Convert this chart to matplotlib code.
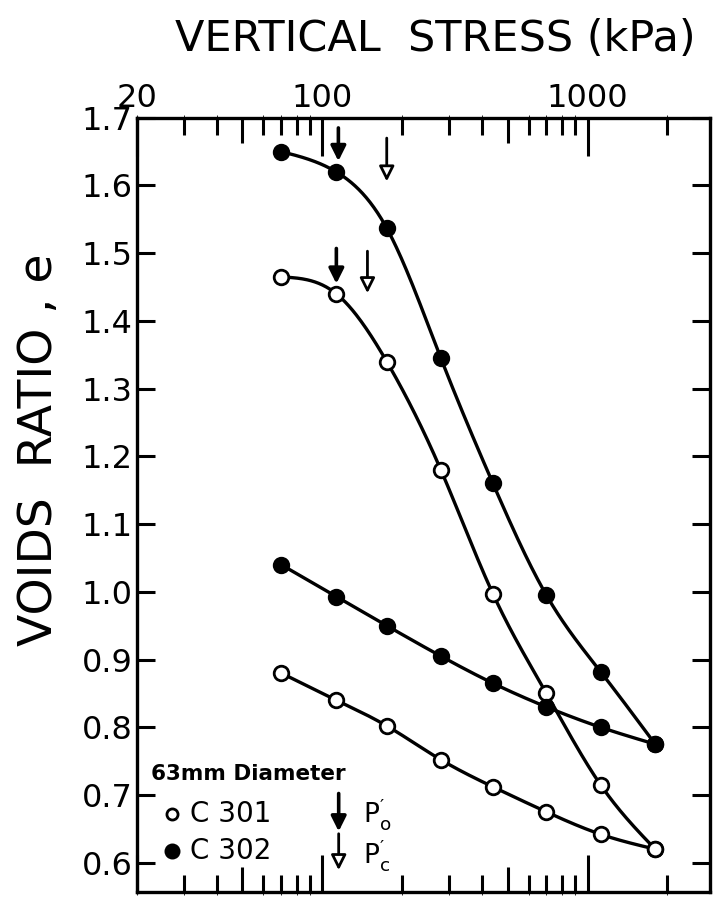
import numpy as np
import matplotlib
matplotlib.use("Agg")
import matplotlib.pyplot as plt
from matplotlib.ticker import FixedLocator, NullFormatter

plt.rcParams['font.family'] = ['DejaVu Sans']
plt.rcParams['mathtext.fontset'] = 'dejavusans'

# vertical stress (kPa) of each load step
stress = [70, 113, 175, 280, 440, 700, 1120, 1800]

# voids ratio
c302_upper = [1.650, 1.620, 1.537, 1.345, 1.160, 0.995, 0.882, 0.775]
c301_upper = [1.465, 1.440, 1.340, 1.180, 0.997, 0.850, 0.715, 0.620]
c302_lower = [1.040, 0.993, 0.950, 0.905, 0.865, 0.830, 0.800, 0.775]
c301_lower = [0.880, 0.840, 0.802, 0.752, 0.712, 0.675, 0.642, 0.620]

# arrows: (stress, e at tail, e at tip)
po_arrows = [(115, 1.685, 1.636), (113, 1.507, 1.455)]
pc_arrows = [(175, 1.670, 1.606), (148, 1.503, 1.441)]

y_ticks = [0.6, 0.7, 0.8, 0.9, 1.0, 1.1, 1.2, 1.3, 1.4, 1.5, 1.6, 1.7]
x_labels = [20, 100, 1000]
x_medium = [50, 500]
x_minor = [30, 40, 60, 70, 80, 90, 200, 300, 400, 600, 700, 800, 900, 2000]


def smooth(xs, ys, n=300):
    # natural cubic spline through the points, in log-x
    x = np.log10(xs)
    y = np.asarray(ys, float)
    k = len(x)
    h = np.diff(x)
    A = np.zeros((k, k))
    r = np.zeros(k)
    A[0, 0] = A[-1, -1] = 1
    for i in range(1, k - 1):
        A[i, i - 1] = h[i - 1]
        A[i, i] = 2 * (h[i - 1] + h[i])
        A[i, i + 1] = h[i]
        r[i] = 3 * ((y[i + 1] - y[i]) / h[i] - (y[i] - y[i - 1]) / h[i - 1])
    c = np.linalg.solve(A, r)
    b = (y[1:] - y[:-1]) / h - h * (2 * c[:-1] + c[1:]) / 3
    d = (c[1:] - c[:-1]) / (3 * h)
    xx = np.linspace(x[0], x[-1], n)
    idx = np.clip(np.searchsorted(x, xx) - 1, 0, k - 2)
    t = xx - x[idx]
    yy = y[idx] + b[idx] * t + c[idx] * t**2 + d[idx] * t**3
    return 10 ** xx, yy


fig = plt.figure(figsize=(7.13, 8.99), dpi=100)
ax = fig.add_axes([0.192, 0.008, 0.804, 0.861])

lw = 2.4
for ys, filled in [(c302_upper, True), (c301_upper, False),
                   (c302_lower, True), (c301_lower, False)]:
    sx, sy = smooth(stress, ys)
    ax.plot(sx, sy, color='black', lw=lw, zorder=2)
    ax.plot(stress, ys, 'o', ms=10.5, mew=2.0, mec='black',
            mfc='black' if filled else 'white', zorder=3)

head = '-|>,head_length=0.9,head_width=0.45'
for x, y0, y1 in po_arrows:
    ax.annotate('', xy=(x, y1), xytext=(x, y0),
                arrowprops=dict(arrowstyle=head, lw=2.6, color='black',
                                fc='black', shrinkA=0, shrinkB=0))
for x, y0, y1 in pc_arrows:
    ax.annotate('', xy=(x, y1), xytext=(x, y0),
                arrowprops=dict(arrowstyle=head, lw=2.0, ec='black',
                                fc='white', shrinkA=0, shrinkB=0))

ax.set_xscale('log')
ax.set_xlim(20, 2900)
ax.set_ylim(0.557, 1.7)

ax.xaxis.set_major_locator(FixedLocator(x_labels))
ax.xaxis.set_minor_locator(FixedLocator(x_minor))
ax.xaxis.set_major_formatter(plt.FuncFormatter(lambda v, p: '%d' % v))
ax.xaxis.set_minor_formatter(NullFormatter())
ax.tick_params(axis='x', which='major', direction='in', top=True, bottom=True,
               labeltop=True, labelbottom=False, length=27, width=2.2,
               labelsize=23, pad=3)
ax.tick_params(axis='x', which='minor', direction='in', top=True, bottom=True,
               length=12, width=2.2)

# medium ticks at 50 and 500
for loc in ('top', 'bottom'):
    sec = ax.secondary_xaxis(loc)
    sec.set_xticks(x_medium)
    sec.set_xticklabels(['', ''])
    sec.tick_params(direction='in', length=18, width=2.2)
    sec.spines[loc].set_visible(False)

ax.yaxis.set_major_locator(FixedLocator(y_ticks))
ax.yaxis.set_major_formatter(plt.FuncFormatter(lambda v, p: '%.1f' % v))
ax.tick_params(axis='y', direction='in', left=True, right=True, length=13,
               width=2.2, labelsize=23, pad=3)

for s in ax.spines.values():
    s.set_linewidth(2.4)

fig.text(0.61, 0.957, 'VERTICAL  STRESS (kPa)', ha='center', va='center',
         fontsize=31)
fig.text(0.055, 0.5, 'VOIDS  RATIO , e', ha='center', va='center',
         rotation=90, fontsize=34)

# legend
ax.text(0.025, 0.152, '63mm Diameter', transform=ax.transAxes, fontsize=15.5,
        fontweight='bold', va='center')
ax.plot([0.062], [0.1], 'o', transform=ax.transAxes, ms=8, mew=2,
        mec='black', mfc='white', clip_on=False)
ax.plot([0.062], [0.053], 'o', transform=ax.transAxes, ms=9.5, mew=2,
        mec='black', mfc='black', clip_on=False)
ax.text(0.092, 0.1, 'C 301', transform=ax.transAxes, fontsize=20, va='center')
ax.text(0.092, 0.053, 'C 302', transform=ax.transAxes, fontsize=20, va='center')
ax.annotate('', xy=(0.352, 0.078), xytext=(0.352, 0.127),
            xycoords='axes fraction',
            arrowprops=dict(arrowstyle=head, lw=2.6, color='black', fc='black',
                            shrinkA=0, shrinkB=0))
ax.annotate('', xy=(0.352, 0.028), xytext=(0.352, 0.075),
            xycoords='axes fraction',
            arrowprops=dict(arrowstyle=head, lw=2.0, ec='black', fc='white',
                            shrinkA=0, shrinkB=0))
ax.text(0.395, 0.1, r'$\mathregular{P_o^{\prime}}$', transform=ax.transAxes,
        fontsize=19, va='center')
ax.text(0.395, 0.048, r'$\mathregular{P_c^{\prime}}$', transform=ax.transAxes,
        fontsize=19, va='center')

fig.savefig('out.png', dpi=100)
